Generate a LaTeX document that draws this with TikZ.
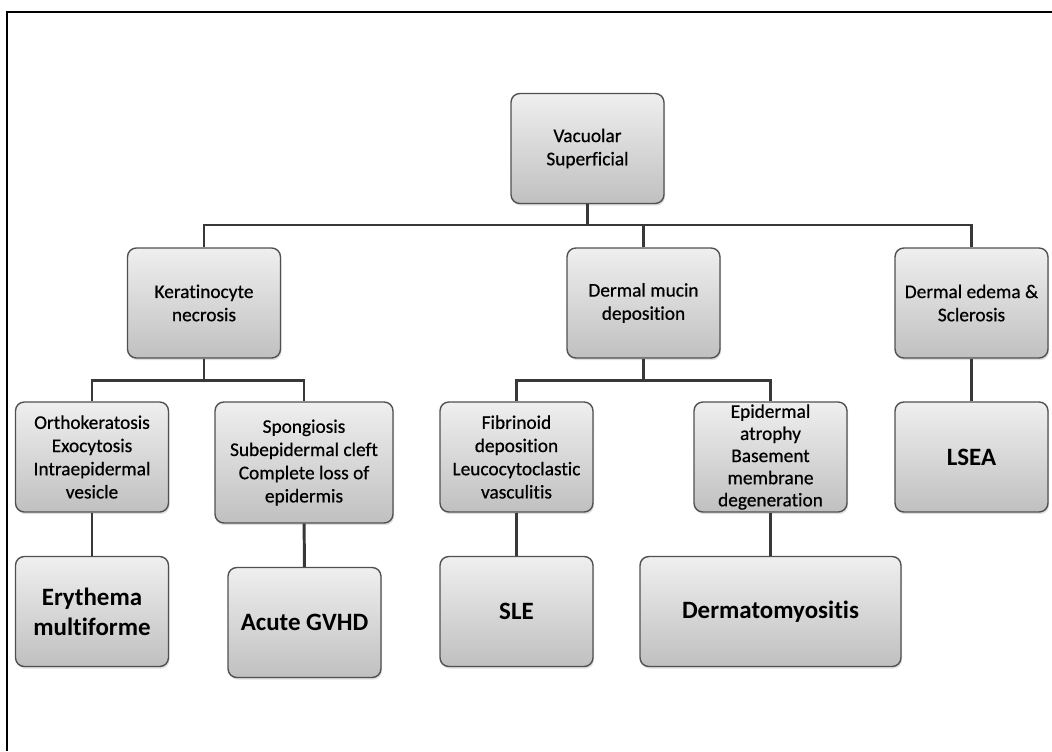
\documentclass[tikz,border=0pt]{standalone}
\usepackage{fontspec}
\setmainfont{Carlito}[Ligatures=NoCommon]
\newfontfamily\boxfont{Carlito}[Ligatures=NoCommon, FakeBold=0.6]
\usetikzlibrary{positioning, calc, shadows}
\definecolor{boxTop}{HTML}{EFEFEF}
\definecolor{boxBot}{HTML}{C0C0C0}
\definecolor{boxLine}{HTML}{505050}
\definecolor{linkGray}{HTML}{383838}

\begin{document}
\begin{tikzpicture}[x=0.02cm, y=-0.02cm,
    box/.style={draw=boxLine, line width=0.8pt, rounded corners=5pt,
      top color=boxTop, bottom color=boxBot, align=center,
      minimum width=3.06cm, minimum height=2.2cm, inner sep=2pt,
      drop shadow={opacity=0.25, shadow xshift=0.6pt, shadow yshift=-1.2pt},
      font=\boxfont\fontsize{11}{13.2}\selectfont},
    bigbox/.style={box, font=\fontsize{14.2}{17}\selectfont\bfseries},
    link/.style={draw=linkGray, line width=1.7pt}]
    \useasboundingbox (0,0) rectangle (1052,751);
    \fill[white] (0,0) rectangle (1052,751);
    \draw[line width=1.4pt] (7,751) -- (7,12) -- (1052,12);
    % first level
    \node[box] (root) at (587.5,148.5) {Vacuolar\\Superficial};
    \node[box] (kera) at (204,303) {Keratinocyte\\necrosis};
    \node[box] (mucin) at (643.5,303) {Dermal mucin\\deposition};
    \node[box] (edema) at (971.5,303) {Dermal edema \&\\Sclerosis};
    % second level
    \node[box] (ortho) at (92,457) {Orthokeratosis\\Exocytosis\\Intraepidermal\\vesicle};
    \node[box, minimum width=3.56cm, minimum height=2.42cm] (spong) at (304,462.5) {Spongiosis\\Subepidermal cleft\\Complete loss of\\epidermis};
    \node[box] (fibri) at (516.5,457) {Fibrinoid\\deposition\\Leucocytoclastic\\vasculitis};
    \node[box, inner ysep=0pt, font=\boxfont\fontsize{11}{12.6}\selectfont] (atrophy) at (770.5,457) {Epidermal\\atrophy\\Basement\\membrane\\degeneration};
    \node[bigbox] (lsea) at (971.5,457) {LSEA};
    % diseases
    \node[bigbox] (erythema) at (92,611.5) {Erythema\\multiforme};
    \node[bigbox] (gvhd) at (304.5,622.5) {Acute GVHD};
    \node[bigbox] (sle) at (516.5,611.5) {SLE};
    \node[bigbox, minimum width=5.22cm] (dermato) at (770.5,611.5) {Dermatomyositis};
    % connectors
    \coordinate (j1) at (587.5,225);
    \coordinate (j2) at (204,380);
    \coordinate (j3) at (643.5,380);
    \draw[link] (root) -- (j1);
    \draw[link] (kera.north) |- (j1) -| (edema.north);
    \draw[link] (j1 -| mucin.north) -- (mucin.north);
    \draw[link] (kera) -- (j2);
    \draw[link] (ortho.north) |- (j2) -| (spong.north);
    \draw[link] (mucin) -- (j3);
    \draw[link] (fibri.north) |- (j3) -| (atrophy.north);
    \draw[link] (edema) -- (lsea);
    \draw[link] (ortho) -- (erythema);
    \draw[link] (spong) -- (gvhd);
    \draw[link] (fibri) -- (sle);
    \draw[link] (atrophy) -- (dermato);
\end{tikzpicture}
\end{document}
